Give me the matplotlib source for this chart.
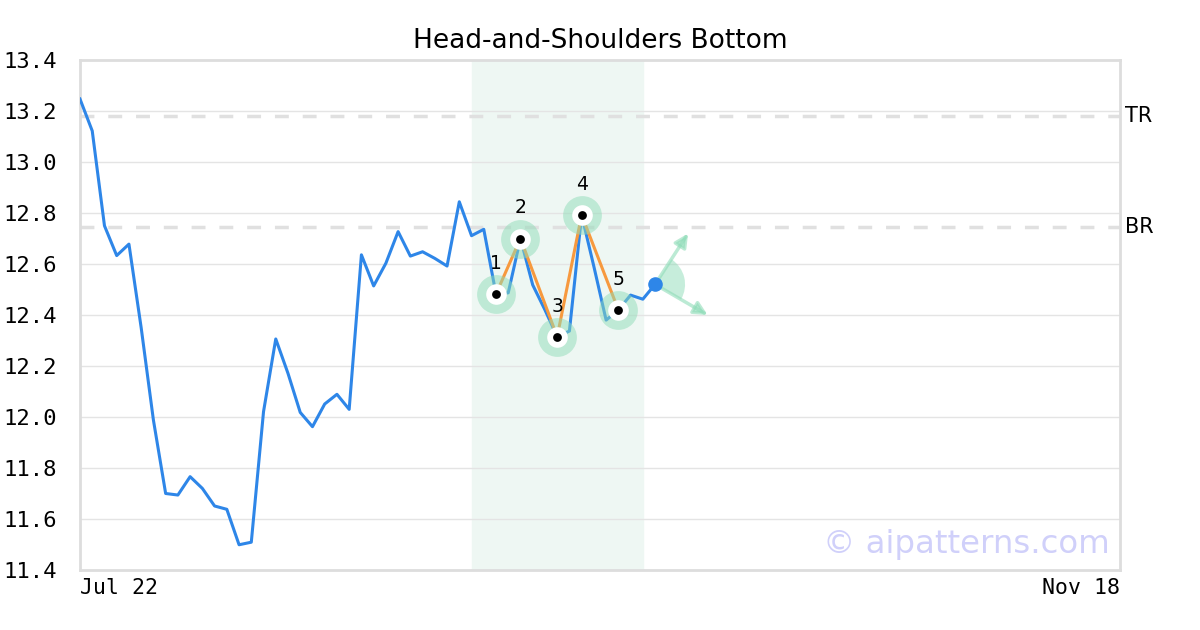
import numpy as np
import matplotlib.pyplot as plt
import matplotlib.transforms as mtransforms
from matplotlib.patches import Wedge

# closing prices (one per trading day)
close = [13.247, 13.122, 12.75, 12.633, 12.678, 12.35, 11.988, 11.70, 11.694, 11.766,
         11.72, 11.651, 11.638, 11.499, 11.509, 12.021, 12.306, 12.171, 12.018, 11.962,
         12.051, 12.089, 12.03, 12.636, 12.514, 12.603, 12.727, 12.631, 12.648, 12.622,
         12.592, 12.844, 12.711, 12.736, 12.482, 12.487, 12.70, 12.518, 12.42, 12.315,
         12.337, 12.792, 12.59, 12.38, 12.42, 12.478, 12.462, 12.52]
n_days = 85
date_labels = ["Jul 22", "Nov 18"]

# pattern pivots
pivot_idx = [34, 36, 39, 41, 44]
pivot_val = [12.482, 12.70, 12.315, 12.792, 12.42]
pivot_names = ["1", "2", "3", "4", "5"]
pattern_span = (32, 46)

top_res = 13.18
bot_res = 12.745

# projection arrows from the last close
arrow_up = (49.7, 12.72)
arrow_down = (51.3, 12.40)

blue = "#2e86e8"
orange = "#f7993e"
green = "#8fdcb8"

fig = plt.figure(figsize=(12, 6.3), dpi=100)
ax = fig.add_axes([80 / 1200, 60 / 630, 1040 / 1200, 510 / 630])

ax.axvspan(pattern_span[0], pattern_span[1], color="#eef7f3", zorder=0)
ax.axhline(top_res, color="#e0e0e0", lw=2.5, ls=(0, (4, 4)), zorder=1)
ax.axhline(bot_res, color="#e0e0e0", lw=2.5, ls=(0, (4, 4)), zorder=1)

x = np.arange(len(close))
ax.plot(x, close, color=blue, lw=2.2, zorder=3)
ax.plot(pivot_idx, pivot_val, color=orange, lw=2.2, zorder=4)

ax.scatter(pivot_idx, pivot_val, s=780, color=green, alpha=0.5, lw=0, zorder=5)
ax.scatter(pivot_idx, pivot_val, s=220, color="white", lw=0, zorder=6)
ax.scatter(pivot_idx, pivot_val, s=40, color="black", lw=0, zorder=7)
for i, v, name in zip(pivot_idx, pivot_val, pivot_names):
    ax.annotate(name, (i, v), xytext=(0, 22), textcoords="offset points",
                ha="center", va="center", fontsize=13.5, zorder=8)

ax.set_xlim(0, n_days)
ax.set_ylim(11.4, 13.4)

# projection: wedge + two arrows
last_x, last_y = x[-1], close[-1]
p0 = ax.transData.transform((last_x, last_y))
angs = []
for end in (arrow_up, arrow_down):
    p1 = ax.transData.transform(end)
    angs.append(np.degrees(np.arctan2(p1[1] - p0[1], p1[0] - p0[0])))
    ax.annotate("", xy=end, xytext=(last_x, last_y),
                arrowprops=dict(arrowstyle="-|>,head_length=0.8,head_width=0.4",
                                color=green, alpha=0.6, lw=2.5, shrinkA=0, shrinkB=0),
                zorder=4)
trans = fig.dpi_scale_trans + mtransforms.ScaledTranslation(last_x, last_y, ax.transData)
ax.add_patch(Wedge((0, 0), 0.3, angs[1], angs[0], transform=trans,
                   color=green, alpha=0.5, lw=0, zorder=4))
ax.scatter([last_x], [last_y], s=90, color=blue, zorder=9)

for name, val in (("TR", top_res), ("BR", bot_res)):
    ax.text(1.005, val, name, transform=ax.get_yaxis_transform(),
            va="center", ha="left", fontsize=15)

yt = np.arange(11.4, 13.41, 0.2)
ax.set_yticks(yt)
ax.set_yticklabels([f"{v:.1f}" for v in yt], family="DejaVu Sans Mono", fontsize=16)
ax.set_xticks([0, n_days])
ax.set_xticklabels(date_labels, family="DejaVu Sans Mono", fontsize=15.5)
ax.get_xticklabels()[0].set_ha("left")
ax.get_xticklabels()[1].set_ha("right")
ax.tick_params(axis="y", length=0, pad=17)
ax.tick_params(axis="x", length=0, pad=6)
ax.grid(axis="y", color="#e4e4e4", lw=1)
ax.set_axisbelow(True)
for s in ax.spines.values():
    s.set_color("#dddddd")
    s.set_linewidth(2)

ax.set_title("Head-and-Shoulders Bottom", fontsize=19, pad=9)
ax.text(0.99, 0.05, "\u00a9 aipatterns.com", transform=ax.transAxes,
        ha="right", va="center", fontsize=23.3, color="#d0d0fa", zorder=2)

fig.savefig("out.png", dpi=100)
